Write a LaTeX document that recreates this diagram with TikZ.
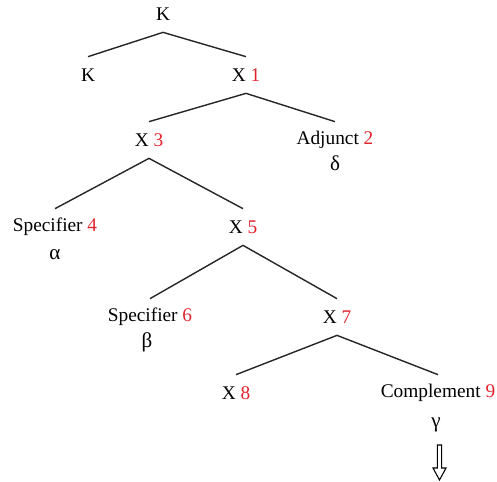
\documentclass[tikz,border=0pt]{standalone}
\usepackage{fontspec}
\setmainfont{Liberation Serif}
\usepackage{tikz}

\definecolor{numred}{RGB}{225,35,45}
\newcommand{\rednum}[1]{\textcolor{numred}{#1}}

\tikzset{
  lbl/.style={inner sep=0pt, minimum height=0.72cm, font=\fontsize{11}{13}\selectfont},
  greek/.style={inner sep=0pt, font=\fontsize{12}{13}\selectfont},
  branch/.style={line width=0.8pt, draw=black!85}
}

\begin{document}
\begin{tikzpicture}[x=0.02cm, y=-0.02cm]
\useasboundingbox (0,0) rectangle (497,481);

% top
\node[lbl] (k0) at (163,14) {K};
\node[lbl] (k1) at (88,75) {K};
\node[lbl] (x1) at (246,75) {X \rednum{1}};
\draw[branch] (k0.south) -- (k1.north);
\draw[branch] (k0.south) -- (x1.north);

% X 1
\node[lbl] (x3) at (149,140) {X \rednum{3}};
\node[lbl] (adj) at (335,140) {Adjunct \rednum{2}};
\node[greek] (delta) at (335,163) {δ};
\draw[branch] (x1.south) -- (x3.north);
\draw[branch] (x1.south) -- (adj.north);

% X 3
\node[lbl] (spec4) at (55,227) {Specifier \rednum{4}};
\node[greek] (alpha) at (55,255) {α};
\node[lbl] (x5) at (243,227) {X \rednum{5}};
\draw[branch] (x3.south) -- (spec4.north);
\draw[branch] (x3.south) -- (x5.north);

% X 5
\node[lbl] (spec6) at (150,317) {Specifier \rednum{6}};
\node[greek] (beta) at (147,342) {β};
\node[lbl] (x7) at (337,317) {X \rednum{7}};
\draw[branch] (x5.south) -- (spec6.north);
\draw[branch] (x5.south) -- (x7.north);

% X 7
\node[lbl] (x8) at (236,393) {X \rednum{8}};
\node[lbl] (comp) at (438,393) {Complement \rednum{9}};
\node[greek] (gamma) at (436,425) {γ};
\draw[branch] (x7.south) -- (x8.north);
\draw[branch] (x7.south) -- (comp.north);

% hollow arrow
\coordinate (arr) at (439.5,445);
\draw[line width=0.6pt] (arr) +(-2.2,0) -- +(-2.2,23) -- +(-6.5,23) -- +(0,35)
  -- +(6.5,23) -- +(2.2,23) -- +(2.2,0) -- cycle;

\end{tikzpicture}
\end{document}
